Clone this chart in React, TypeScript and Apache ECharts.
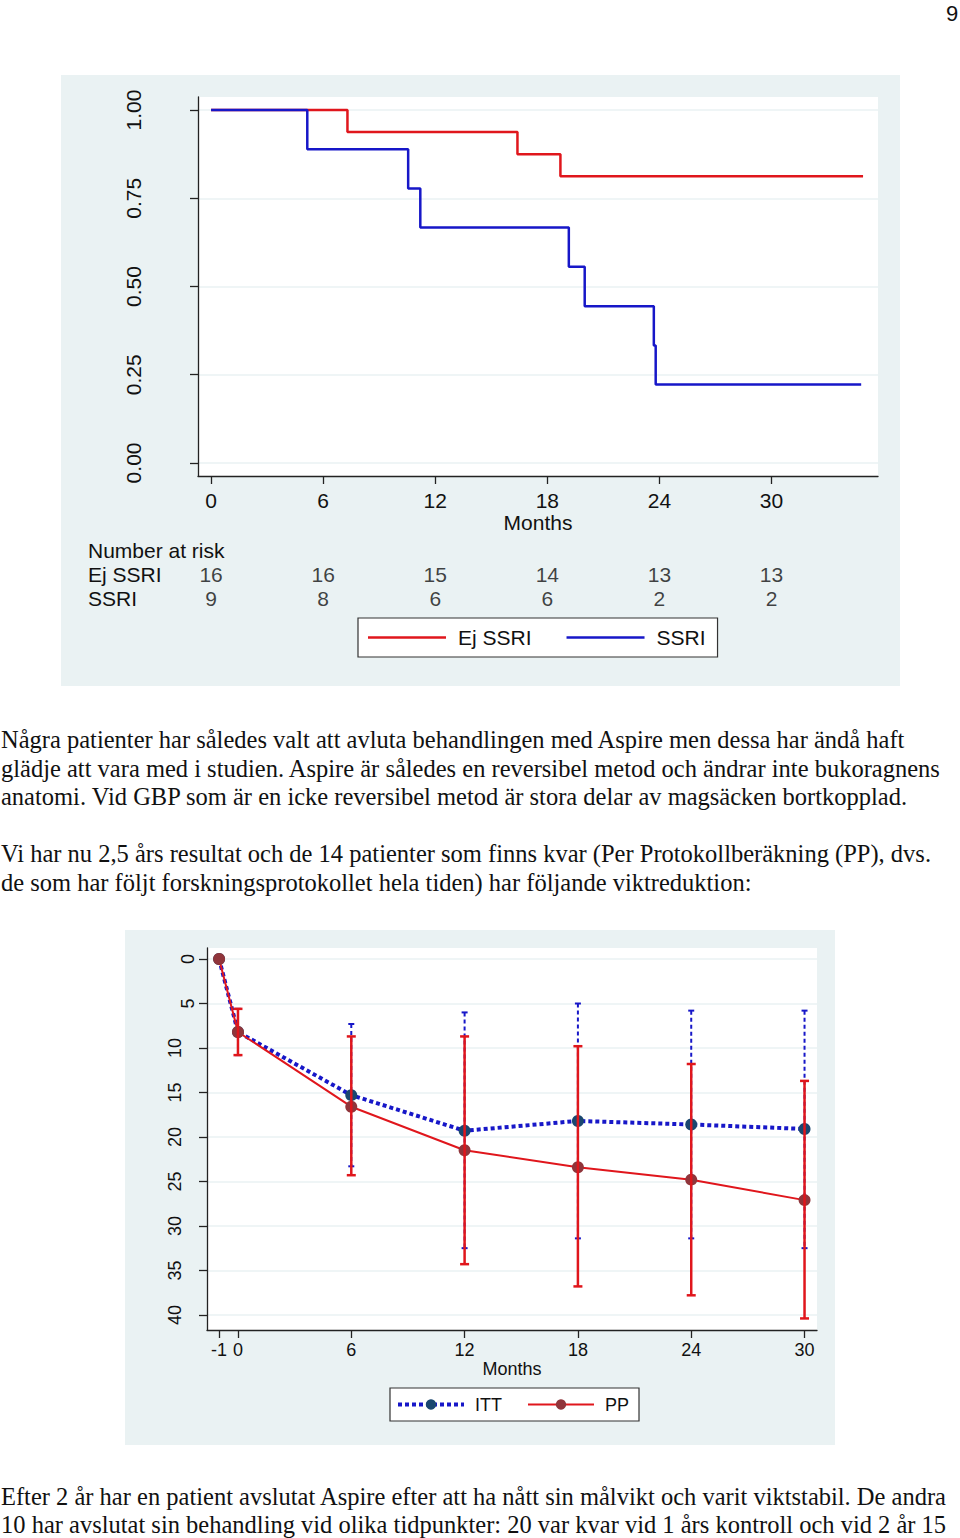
import React, { useEffect, useRef } from 'react';
import * as echarts from 'echarts';

// ---------- Chart 1: Kaplan-Meier ----------
const kmMonthTicks = [0, 6, 12, 18, 24, 30];
const kmSurvTicks = [0, 0.25, 0.5, 0.75, 1];
const ejSsriTimes = [0, 7.3, 16.4, 18.7, 34.9];
const ejSsriSurv = [1, 0.9375, 0.875, 0.8125, 0.8125];
const ssriTimes = [0, 5.15, 10.55, 11.2, 19.15, 20.0, 23.7, 23.8, 34.8];
const ssriSurv = [1, 0.889, 0.778, 0.667, 0.556, 0.444, 0.333, 0.222, 0.222];
const riskGroups = ['Ej SSRI', 'SSRI'];
const riskMonths = [0, 6, 12, 18, 24, 30];
const riskEjSsri = [16, 16, 15, 14, 13, 13];
const riskSsri = [9, 8, 6, 6, 2, 2];

// ---------- Chart 2: weight reduction ----------
const wMonths = [-1, 0, 6, 12, 18, 24, 30];
const wMonthTicks = [-1, 0, 6, 12, 18, 24, 30];
const wValueTicks = [0, 5, 10, 15, 20, 25, 30, 35, 40];
const ittMean = [0, 8.2, 15.3, 19.3, 18.2, 18.6, 19.1];
const ittLow = [null, 5.6, 7.3, 6.0, 5.0, 5.8, 5.8];
const ittHigh = [null, 10.8, 23.3, 32.5, 31.4, 31.4, 32.5];
const ppMean = [0, 8.2, 16.6, 21.5, 23.4, 24.8, 27.1];
const ppLow = [null, 5.6, 8.7, 8.7, 9.8, 11.8, 13.7];
const ppHigh = [null, 10.8, 24.3, 34.3, 36.8, 37.8, 40.4];

// ---------- Page text ----------
const para1 = [
  'Några patienter har således valt att avluta behandlingen med Aspire men dessa har ändå haft',
  'glädje att vara med i studien. Aspire är således en reversibel metod och ändrar inte bukoragnens',
  'anatomi. Vid GBP som är en icke reversibel metod är stora delar av magsäcken bortkopplad.',
];
const para2 = [
  'Vi har nu 2,5 års resultat och de 14 patienter som finns kvar (Per Protokollberäkning (PP), dvs.',
  'de som har följt forskningsprotokollet hela tiden) har följande viktreduktion:',
];
const para3 = [
  'Efter 2 år har en patient avslutat Aspire efter att ha nått sin målvikt och varit viktstabil. De andra',
  '10 har avslutat sin behandling vid olika tidpunkter: 20 var kvar vid 1 års kontroll och vid 2 år 15',
];

const PANEL = '#eaf2f3';
const INK = '#111';
const AXIS = '#222';
const RED = '#e0161c';
const BLUE = '#1717c8';
const NAVY = '#1a476f';
const MAROON = '#90353b';
const SANS = '"Liberation Sans", Arial, sans-serif';
const SERIF = '"Liberation Serif", "Times New Roman", serif';

function errorBars(color: string, capHalf: number, width: number, dash: number[] | null) {
  return (params: any, api: any) => {
    const x = api.value(0);
    const top = api.coord([x, api.value(1)]);
    const bot = api.coord([x, api.value(2)]);
    const solid = { stroke: color, lineWidth: width };
    return {
      type: 'group',
      children: [
        { type: 'line', shape: { x1: top[0], y1: top[1], x2: bot[0], y2: bot[1] }, style: dash ? { ...solid, lineDash: dash } : solid },
        { type: 'line', shape: { x1: top[0] - capHalf, y1: top[1], x2: top[0] + capHalf, y2: top[1] }, style: solid },
        { type: 'line', shape: { x1: bot[0] - capHalf, y1: bot[1], x2: bot[0] + capHalf, y2: bot[1] }, style: solid },
      ],
    };
  };
}

function textLines(lines: string[], ys: number[]) {
  return lines.map((t, i) => ({
    type: 'text',
    x: 1,
    y: ys[i],
    style: { text: t, fontSize: 24.5, fontFamily: SERIF, fill: INK, verticalAlign: 'middle', align: 'left' },
  }));
}

export default function App() {
  const ref = useRef<HTMLDivElement>(null);

  useEffect(() => {
    if (!ref.current) return;
    const chart = echarts.init(ref.current, undefined, { renderer: 'svg' });

    const axisLine = { show: true, onZero: false, lineStyle: { color: AXIS, width: 1.3 } };
    const tickStyle = { color: AXIS, width: 1.3 };

    const riskData: any[] = [];
    riskMonths.forEach((m, i) => {
      riskData.push([m, riskGroups[0], riskEjSsri[i]]);
      riskData.push([m, riskGroups[1], riskSsri[i]]);
    });

    const option: any = {
      animation: false,
      backgroundColor: '#fff',
      textStyle: { fontFamily: SANS, color: INK },
      graphic: {
        elements: [
          { type: 'rect', z: -100, shape: { x: 61, y: 75, width: 839, height: 611 }, style: { fill: PANEL } },
          { type: 'rect', z: -100, shape: { x: 125, y: 930, width: 710, height: 515 }, style: { fill: PANEL } },
          {
            type: 'text', x: 952, y: 13,
            style: { text: '9', fontSize: 22, fontFamily: SANS, fill: INK, align: 'center', verticalAlign: 'middle' },
          },
          {
            type: 'text', x: 88, y: 550,
            style: { text: 'Number at risk', fontSize: 21, fontFamily: SANS, fill: INK, align: 'left', verticalAlign: 'middle' },
          },
          ...textLines(para1, [739, 768, 796]),
          ...textLines(para2, [853, 882]),
          ...textLines(para3, [1496, 1524]),
        ],
      },
      grid: [
        { left: 198, top: 97, width: 680, height: 379, show: true, backgroundColor: '#fff', borderWidth: 0 },
        { left: 207, top: 948, width: 610, height: 382, show: true, backgroundColor: '#fff', borderWidth: 0 },
        { left: 198, top: 562, width: 680, height: 48, show: false },
      ],
      xAxis: [
        {
          gridIndex: 0, type: 'value', min: -0.7, max: 35.7,
          axisLine,
          axisTick: { show: true, length: 8, customValues: kmMonthTicks, lineStyle: tickStyle },
          axisLabel: { customValues: kmMonthTicks, margin: 14, fontSize: 21, color: INK },
          splitLine: { show: false },
          name: 'Months', nameLocation: 'middle', nameGap: 36,
          nameTextStyle: { fontSize: 21, color: INK },
        },
        {
          gridIndex: 1, type: 'value', min: -1.64, max: 30.66,
          axisLine,
          axisTick: { show: true, length: 8, customValues: wMonthTicks, lineStyle: tickStyle },
          axisLabel: { customValues: wMonthTicks, margin: 11, fontSize: 18, color: INK },
          splitLine: { show: false },
          name: 'Months', nameLocation: 'middle', nameGap: 29,
          nameTextStyle: { fontSize: 18, color: INK },
        },
        { gridIndex: 2, type: 'value', min: -0.7, max: 35.7, show: false },
      ],
      yAxis: [
        {
          gridIndex: 0, type: 'value', min: -0.037, max: 1.037,
          axisLine,
          axisTick: { show: true, length: 8, customValues: kmSurvTicks, lineStyle: tickStyle },
          axisLabel: {
            customValues: kmSurvTicks, rotate: 90, margin: 54, fontSize: 21, color: INK,
            formatter: (v: number) => v.toFixed(2),
          },
          splitLine: { show: true, lineStyle: { color: PANEL, width: 1.5 } },
        },
        {
          gridIndex: 1, type: 'value', min: -1.24, max: 41.7, inverse: true,
          axisLine,
          axisTick: { show: true, length: 8, customValues: wValueTicks, lineStyle: tickStyle },
          axisLabel: {
            customValues: wValueTicks, rotate: 90, margin: 10, color: INK,
            formatter: (v: number) => (v < 10 ? `{a|${v}}` : `{b|${v}}`),
            rich: {
              a: { fontSize: 18, color: INK, fontFamily: SANS },
              b: { fontSize: 18, color: INK, fontFamily: SANS, padding: [0, 0, 13, 0] },
            },
          },
          splitLine: { show: true, lineStyle: { color: PANEL, width: 1.5 } },
        },
        {
          gridIndex: 2, type: 'category', data: riskGroups, inverse: true,
          axisLine: { show: false }, axisTick: { show: false }, splitLine: { show: false },
          axisLabel: { interval: 0, hideOverlap: false, align: 'left', margin: 110, fontSize: 21, color: INK },
        },
      ],
      legend: [
        {
          left: 358, top: 618, orient: 'horizontal', selectedMode: false,
          data: ['Ej SSRI', 'SSRI'], icon: 'rect', itemWidth: 78, itemHeight: 2.5, itemGap: 35,
          padding: [9, 12, 9, 10], backgroundColor: '#fff', borderColor: '#333', borderWidth: 1.2,
          textStyle: { fontSize: 21, color: INK, padding: [0, 0, 0, 7], lineHeight: 21 },
        },
        {
          left: 390, top: 1388, orient: 'horizontal', selectedMode: false,
          data: [
            { name: 'ITT', lineStyle: { width: 4 } },
            { name: 'PP', lineStyle: { width: 2 } },
          ],
          itemWidth: 66, itemHeight: 13, itemGap: 25,
          padding: [7, 10, 7, 6], backgroundColor: '#fff', borderColor: '#333', borderWidth: 1.2,
          textStyle: { fontSize: 18, color: INK, padding: [0, 0, 0, 6], lineHeight: 19 },
        },
      ],
      series: [
        {
          name: 'Ej SSRI', type: 'line', xAxisIndex: 0, yAxisIndex: 0, step: 'end', symbol: 'none', z: 3,
          color: RED, lineStyle: { color: RED, width: 2.5 },
          data: ejSsriTimes.map((t, i) => [t, ejSsriSurv[i]]),
        },
        {
          name: 'SSRI', type: 'line', xAxisIndex: 0, yAxisIndex: 0, step: 'end', symbol: 'none', z: 4,
          color: BLUE, lineStyle: { color: BLUE, width: 2.5 },
          data: ssriTimes.map((t, i) => [t, ssriSurv[i]]),
        },
        {
          name: 'risk', type: 'scatter', xAxisIndex: 2, yAxisIndex: 2, symbolSize: 0,
          label: { show: true, position: 'inside', fontSize: 21, color: INK, formatter: (p: any) => String(p.value[2]) },
          data: riskData,
        },
        {
          name: 'ITT CI', type: 'custom', xAxisIndex: 1, yAxisIndex: 1, z: 1,
          renderItem: errorBars(BLUE, 3, 2, [4, 3]),
          data: wMonths.map((m, i) => [m, ittLow[i], ittHigh[i]]).filter((d) => d[1] != null),
        },
        {
          name: 'ITT', type: 'line', xAxisIndex: 1, yAxisIndex: 1, z: 2,
          symbol: 'circle', symbolSize: 12, showAllSymbol: true,
          itemStyle: { color: NAVY }, lineStyle: { color: BLUE, width: 4, type: [4, 3] },
          data: wMonths.map((m, i) => [m, ittMean[i]]),
        },
        {
          name: 'PP', type: 'line', xAxisIndex: 1, yAxisIndex: 1, z: 3,
          symbol: 'circle', symbolSize: 12, showAllSymbol: true,
          itemStyle: { color: MAROON }, lineStyle: { color: RED, width: 2 },
          data: wMonths.map((m, i) => [m, ppMean[i]]),
        },
        {
          name: 'PP CI', type: 'custom', xAxisIndex: 1, yAxisIndex: 1, z: 4,
          renderItem: errorBars(RED, 4.5, 2.5, null),
          data: wMonths.map((m, i) => [m, ppLow[i], ppHigh[i]]).filter((d) => d[1] != null),
        },
      ],
    };

    chart.setOption(option);
    return () => chart.dispose();
  }, []);

  return <div ref={ref} style={{ position: 'absolute', left: 0, top: 0, width: 960, height: 1538 }} />;
}
